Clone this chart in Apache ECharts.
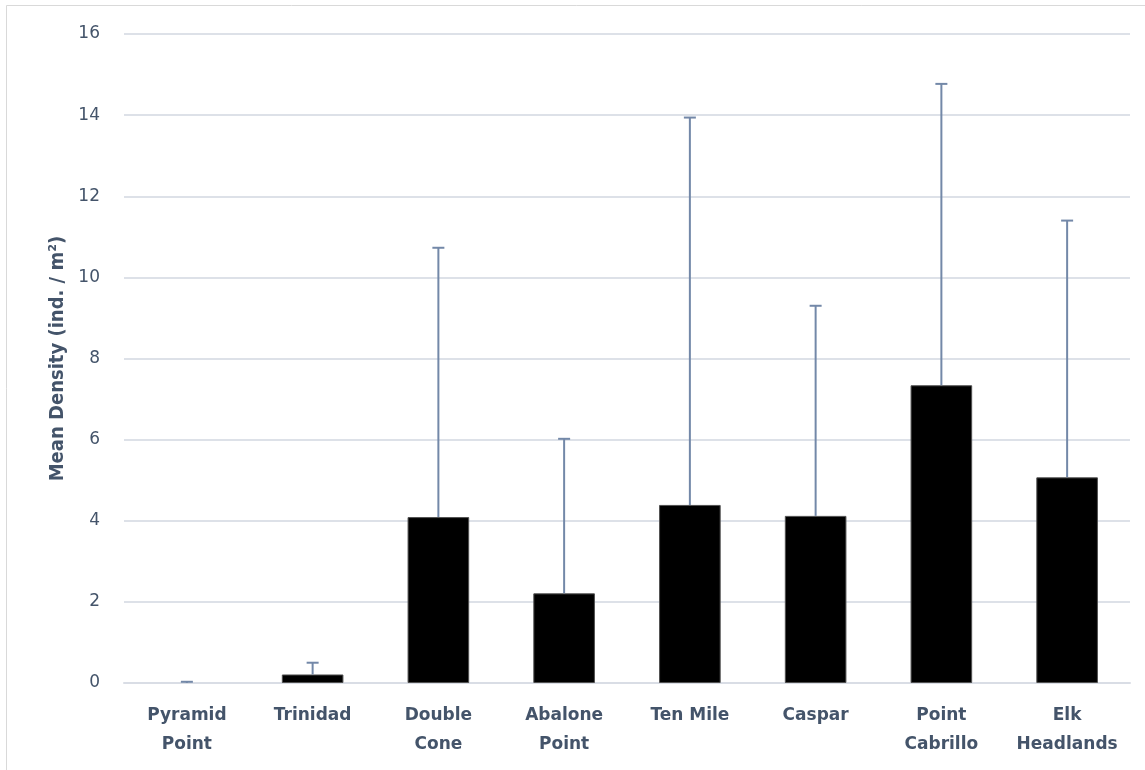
<!DOCTYPE html>
<html>
<head>
<meta charset="utf-8">
<script src="https://cdn.jsdelivr.net/npm/echarts@6/dist/echarts.min.js"></script>
<style>
html,body{margin:0;padding:0;background:#fff;}
#chart{width:1145px;height:770px;}
</style>
</head>
<body>
<div id="chart"></div>
<script>
const categories = ['Pyramid\nPoint', 'Trinidad', 'Double\nCone', 'Abalone\nPoint', 'Ten Mile', 'Caspar', 'Point\nCabrillo', 'Elk\nHeadlands'];
const meanDensity = [0.0, 0.21, 4.09, 2.21, 4.39, 4.12, 7.34, 5.07];
const errorUpper = [0.03, 0.50, 10.73, 6.02, 13.94, 9.30, 14.77, 11.40];
const yTicks = [0, 2, 4, 6, 8, 10, 12, 14, 16];

const textColor = '#44546A';
const errData = categories.map((c, i) => [i, meanDensity[i], errorUpper[i]]);
const barData = meanDensity.map(v => v === 0 ? { value: v, itemStyle: { borderWidth: 0 } } : v);

const chart = echarts.init(document.getElementById('chart'));
chart.setOption({
  backgroundColor: '#fff',
  animation: false,
  graphic: [{
    type: 'rect',
    shape: { x: 6.5, y: 5.5, width: 1300, height: 900 },
    style: { fill: 'none', stroke: '#d9d9d9', lineWidth: 1 },
    silent: true
  }],
  grid: { left: 124, right: 15, top: 34, bottom: 87, containLabel: false },
  xAxis: {
    type: 'category',
    data: categories,
    axisLine: { show: true, lineStyle: { color: '#d9dde5', width: 2 } },
    axisTick: { show: false },
    axisLabel: {
      interval: 0,
      hideOverlap: false,
      color: textColor,
      fontFamily: 'DejaVu Sans',
      fontWeight: 'bold',
      fontSize: 17,
      lineHeight: 29,
      margin: 18
    }
  },
  yAxis: {
    type: 'value',
    min: 0,
    max: 16,
    interval: 2,
    name: 'Mean Density (ind. / m²)',
    nameLocation: 'middle',
    nameGap: 56,
    nameTextStyle: {
      color: textColor,
      fontFamily: 'Liberation Sans Narrow, DejaVu Sans Condensed, sans-serif',
      fontWeight: 'bold',
      fontSize: 20
    },
    axisLine: { show: false },
    axisTick: { show: false },
    splitLine: { lineStyle: { color: '#dde1e8', width: 2 } },
    axisLabel: {
      color: textColor,
      fontFamily: 'DejaVu Sans',
      fontSize: 17,
      margin: 24,
      formatter: v => yTicks.includes(v) ? String(v) : ''
    }
  },
  series: [
    {
      type: 'bar',
      data: barData,
      barWidth: '49%',
      itemStyle: { color: '#000', borderColor: '#505050', borderWidth: 1 }
    },
    {
      type: 'custom',
      data: errData,
      encode: { x: 0, y: [1, 2] },
      z: 10,
      renderItem: function (params, api) {
        const i = api.value(0);
        const lo = api.coord([i, api.value(1)]);
        const hi = api.coord([i, api.value(2)]);
        const half = 6;
        const style = { stroke: '#7388a8', lineWidth: 2 };
        return {
          type: 'group',
          children: [
            { type: 'line', shape: { x1: lo[0], y1: lo[1], x2: hi[0], y2: hi[1] }, style: style },
            { type: 'line', shape: { x1: hi[0] - half, y1: hi[1], x2: hi[0] + half, y2: hi[1] }, style: style }
          ]
        };
      }
    }
  ]
});
</script>
</body>
</html>
